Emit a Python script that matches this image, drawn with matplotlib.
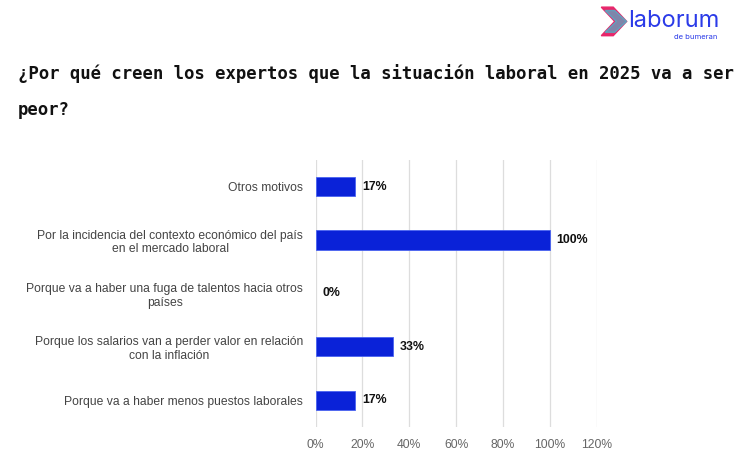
import matplotlib.pyplot as plt
from matplotlib.patches import Polygon

# datos del gráfico
categorias = [
    'Otros motivos',
    'Por la incidencia del contexto económico del país\nen el mercado laboral',
    'Porque va a haber una fuga de talentos hacia otros\npaíses',
    'Porque los salarios van a perder valor en relación\ncon la inflación',
    'Porque va a haber menos puestos laborales',
]
valores = [17, 100, 0, 33, 17]
ticks_x = [0, 20, 40, 60, 80, 100, 120]

titulo = '¿Por qué creen los expertos que la situación laboral en 2025 va a ser\npeor?'

fig = plt.figure(figsize=(7.46, 4.76), dpi=100)
ax = fig.add_axes([0.423, 0.103, 0.377, 0.561])

pos = list(range(len(categorias)))
anchos_borde = [0.6 if v > 0 else 0 for v in valores]
ax.barh(pos, valores, height=0.36, color='#0a22d8', edgecolor='#4a63f0',
        linewidth=anchos_borde, zorder=3)
for p, v in zip(pos, valores):
    ax.text(v + 2.8, p, f'{v}%', va='center', ha='left', fontsize=8.9,
            fontweight='bold', color='#111111', family='Liberation Sans')

ax.set_xlim(0, 120)
ax.set_ylim(len(categorias) - 0.5, -0.5)
ax.set_xticks(ticks_x)
ax.set_xticklabels([f'{t}%' for t in ticks_x], fontsize=8.7, color='#666666', family='Liberation Sans')
ax.set_yticks(pos)
ax.set_yticklabels(categorias, fontsize=8.7, color='#444444', family='Liberation Sans',
                   multialignment='center')
ax.tick_params(axis='y', length=0, pad=9)
ax.tick_params(axis='x', length=0, pad=9)
ax.grid(axis='x', color='#dddddd', linewidth=0.9, zorder=0)
for s in ['top', 'right', 'bottom', 'left']:
    ax.spines[s].set_visible(False)

fig.text(0.024, 0.866, titulo, fontsize=12.45, fontweight='bold', family='DejaVu Sans Mono',
         color='#111111', va='top', ha='left', linespacing=2.3)

# logo
fig.patches.append(Polygon([[0.806, 0.985], [0.822, 0.985], [0.840, 0.955], [0.822, 0.925],
                            [0.806, 0.925], [0.824, 0.955]], closed=True,
                           transform=fig.transFigure, color='#e8266a', zorder=5))
fig.patches.append(Polygon([[0.811, 0.978], [0.824, 0.978], [0.840, 0.955], [0.824, 0.932],
                            [0.811, 0.932], [0.826, 0.955]], closed=True,
                           transform=fig.transFigure, color='#2ad4e0', alpha=0.55, zorder=6))
fig.text(0.842, 0.955, 'laborum', fontsize=17, color='#2b3be8', family='Inter',
         va='center', ha='left')
fig.text(0.903, 0.922, 'de bumeran', fontsize=5.5, color='#2b3be8', family='Inter',
         va='center', ha='left')

fig.savefig('out.png', dpi=100)
